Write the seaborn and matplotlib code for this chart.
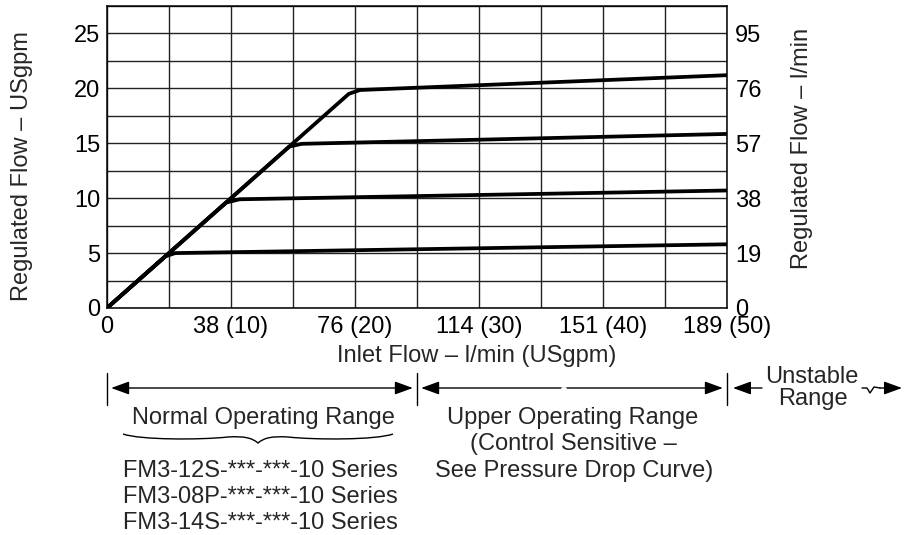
import seaborn as sns
import matplotlib.pyplot as plt
from matplotlib import transforms
from matplotlib.lines import Line2D
from matplotlib.path import Path
from matplotlib.patches import PathPatch

# Dados (USgpm): entrada x saída regulada para cada ajuste
ajustes = ['5', '10', '15', '20']
entrada_5 = [0, 4.7, 5.5, 50]
saida_5 = [0, 4.7, 5.0, 5.8]
entrada_10 = [0, 9.6, 10.7, 50]
saida_10 = [0, 9.6, 9.9, 10.7]
entrada_15 = [0, 14.7, 15.7, 50]
saida_15 = [0, 14.7, 14.95, 15.85]
entrada_20 = [0, 19.5, 20.4, 50]
saida_20 = [0, 19.5, 19.85, 21.2]

ticks_x = [0, 5, 10, 15, 20, 25, 30, 35, 40, 45, 50]
rotulos_x = ['0', '', '38 (10)', '', '76 (20)', '', '114 (30)', '', '151 (40)', '', '189 (50)']
ticks_y = [0, 2.5, 5, 7.5, 10, 12.5, 15, 17.5, 20, 22.5, 25, 27.5]
rotulos_usgpm = ['0', '', '5', '', '10', '', '15', '', '20', '', '25', '']
rotulos_lmin = ['0', '', '19', '', '38', '', '57', '', '76', '', '95', '']

# Limites das faixas de operação (USgpm)
faixas = [0, 25, 50]

sns.set_theme(style='white')
plt.rcParams['font.family'] = ['Liberation Sans', 'DejaVu Sans']
fs = 17

fig = plt.figure(figsize=(9.12, 5.35), dpi=100)
W, H = 912, 535
ax = fig.add_axes([107 / W, 1 - 308 / H, 620 / W, 302 / H])

for xs, ys in zip([entrada_5, entrada_10, entrada_15, entrada_20],
                  [saida_5, saida_10, saida_15, saida_20]):
    sns.lineplot(x=xs, y=ys, color='black', linewidth=2.7, ax=ax)

ax.set_xlim(0, 50)
ax.set_ylim(0, 27.5)
ax.set_xticks(ticks_x, rotulos_x)
ax.set_yticks(ticks_y, rotulos_usgpm)
ax.set_axisbelow(True)
ax.grid(True, color='#222222', linewidth=1)
ax.tick_params(axis='x', length=0, pad=6, labelsize=fs, colors='black')
ax.tick_params(axis='y', length=0, pad=5, labelsize=fs, colors='black')
for s in ax.spines.values():
    s.set_color('black')
    s.set_linewidth(1.1)

ax2 = ax.twinx()
ax2.set_ylim(0, 27.5)
ax2.set_yticks(ticks_y, rotulos_lmin)
ax2.tick_params(axis='y', length=0, pad=6, labelsize=fs, colors='black')
ax2.grid(False)
for s in ax2.spines.values():
    s.set_visible(False)

# transformação em pixels (origem no canto superior esquerdo)
pix = transforms.Affine2D().scale(1 / W, -1 / H).translate(0, 1) + fig.transFigure
misto = transforms.blended_transform_factory(ax.transData, pix)

fig.text(22, 166, 'Regulated Flow – USgpm', rotation=90, ha='center', va='center', fontsize=fs, transform=pix)
fig.text(802, 148, 'Regulated Flow – l/min', rotation=90, ha='center', va='center', fontsize=fs, transform=pix)
fig.text(477, 362, 'Inlet Flow – l/min (USgpm)', ha='center', va='baseline', fontsize=fs, transform=pix)

# faixas de operação
for x in faixas:
    fig.add_artist(Line2D([x, x], [373, 405], color='black', lw=1, transform=misto))
estilo = '<|-|>,head_length=0.55,head_width=0.2'
for x0, x1 in zip(faixas[:-1], faixas[1:]):
    ax.annotate('', xy=(x1, 388), xytext=(x0, 388), xycoords=misto, textcoords=misto,
                annotation_clip=False,
                arrowprops=dict(arrowstyle=estilo, color='black', lw=1,
                                shrinkA=3, shrinkB=3, mutation_scale=20))
# pequena falha na seta da faixa superior
fig.add_artist(Line2D([562, 565], [388, 388], color='white', lw=2, transform=pix))

seta = dict(arrowstyle='-|>,head_length=0.55,head_width=0.2', color='black', lw=1,
            shrinkA=0, shrinkB=0, mutation_scale=20)
ax.annotate('', xy=(733, 388), xytext=(762, 388), xycoords=pix, textcoords=pix,
            annotation_clip=False, arrowprops=seta)
fig.add_artist(Line2D([862, 867, 870, 874, 880], [388, 388, 393, 387, 388],
                      color='black', lw=1, transform=pix))
ax.annotate('', xy=(902, 388), xytext=(880, 388), xycoords=pix, textcoords=pix,
            annotation_clip=False, arrowprops=seta)

fig.text(263, 424, 'Normal Operating Range', ha='center', va='baseline', fontsize=fs, transform=pix)
fig.text(573, 424, 'Upper Operating Range', ha='center', va='baseline', fontsize=fs, transform=pix)
fig.text(573, 450, '(Control Sensitive –', ha='center', va='baseline', fontsize=fs, transform=pix)
fig.text(574, 477, 'See Pressure Drop Curve)', ha='center', va='baseline', fontsize=fs, transform=pix)
fig.text(812, 383, 'Unstable', ha='center', va='baseline', fontsize=fs, transform=pix)
fig.text(813, 405, 'Range', ha='center', va='baseline', fontsize=fs, transform=pix)

series = ['FM3-12S-***-***-10 Series', 'FM3-08P-***-***-10 Series', 'FM3-14S-***-***-10 Series']
for i, s in enumerate(series):
    fig.text(123, 477 + 26 * i, s, ha='left', va='baseline', fontsize=fs, transform=pix)

# chave abaixo de "Normal Operating Range"
verts = [(123, 434), (140, 440), (200, 440), (228, 437),
         (245, 436), (252, 438), (258, 443),
         (264, 438), (271, 436), (288, 437),
         (316, 440), (376, 440), (393, 434)]
codes = [Path.MOVETO] + [Path.CURVE4] * 12
fig.add_artist(PathPatch(Path(verts, codes), fill=False, edgecolor='black', lw=1, transform=pix))

fig.savefig('out.png', dpi=100)
